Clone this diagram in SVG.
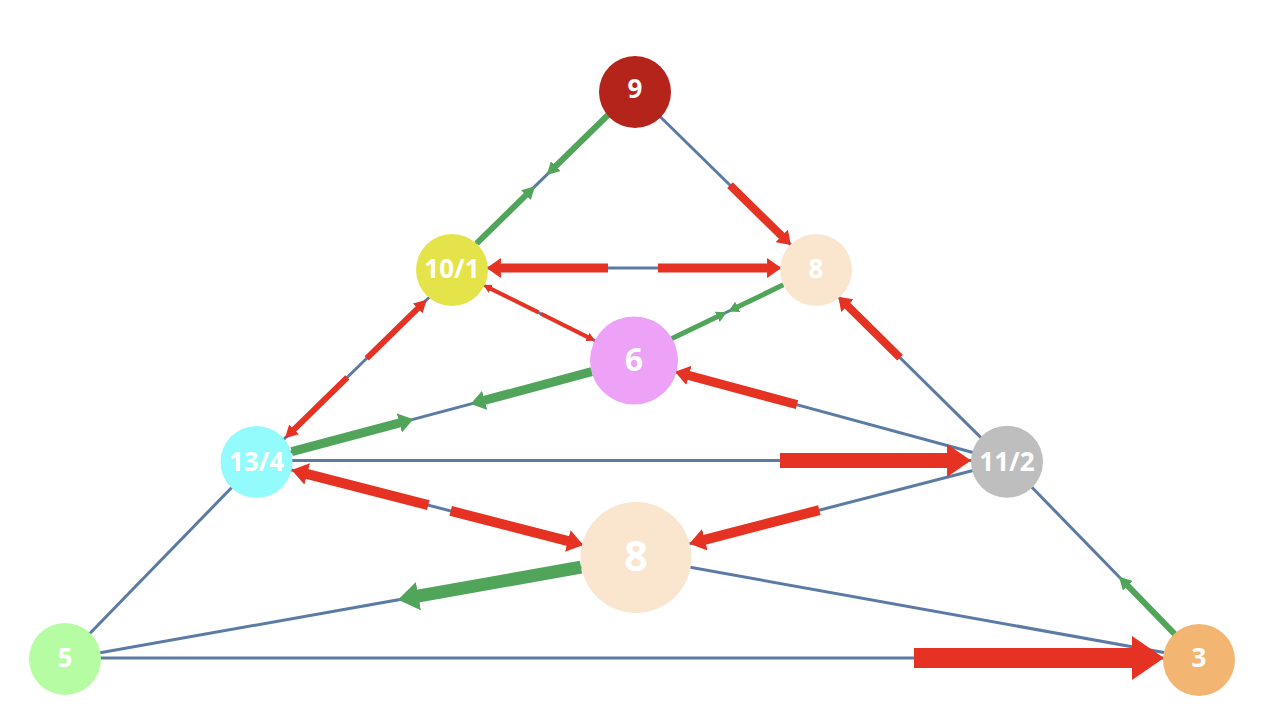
<svg xmlns="http://www.w3.org/2000/svg" width="1268" height="720" viewBox="0 0 1268 720">
<style>
.e{stroke:#5b7ba4;stroke-width:3;fill:none}
.r{stroke:#e63222;fill:none}
.g{stroke:#51a55b;fill:none}
.rb{marker-end:url(#hrb)}
.rt{marker-end:url(#hrt)}
.gb{marker-end:url(#hgb)}
.gt{marker-end:url(#hgt)}
.t{fill:#ffffff;font-family:"Open Sans","DejaVu Sans",sans-serif;font-weight:bold;text-anchor:middle}
</style>
<defs>
<marker id="hrb" viewBox="0 -1.1 1.6 2.2" refX="0.05" refY="0" markerWidth="1.6" markerHeight="2.2" markerUnits="strokeWidth" orient="auto"><path d="M0,-1.1 L1.6,0 L0,1.1 z" fill="#e63222"/></marker>
<marker id="hrt" viewBox="0 -1.15 2.1 2.3" refX="0.1" refY="0" markerWidth="2.1" markerHeight="2.3" markerUnits="strokeWidth" orient="auto"><path d="M0,-1.15 L2.1,0 L0,1.15 z" fill="#e63222"/></marker>
<marker id="hgb" viewBox="0 -1.1 1.6 2.2" refX="0.05" refY="0" markerWidth="1.6" markerHeight="2.2" markerUnits="strokeWidth" orient="auto"><path d="M0,-1.1 L1.6,0 L0,1.1 z" fill="#51a55b"/></marker>
<marker id="hgt" viewBox="0 -1.15 2.1 2.3" refX="0.1" refY="0" markerWidth="2.1" markerHeight="2.3" markerUnits="strokeWidth" orient="auto"><path d="M0,-1.15 L2.1,0 L0,1.15 z" fill="#51a55b"/></marker>
</defs>
<rect width="1268" height="720" fill="#ffffff"/>
<g id="connectors">
<line class="e" x1="635" y1="88.6" x2="452" y2="267.4"/>
<line class="e" x1="635" y1="92" x2="816" y2="269.5"/>
<line class="e" x1="452" y1="268" x2="816" y2="268"/>
<line class="e" x1="452" y1="269.4" x2="634" y2="360.1"/>
<line class="e" x1="816" y1="269" x2="634" y2="357"/>
<line class="e" x1="452" y1="275" x2="256.5" y2="466"/>
<line class="e" x1="634" y1="360.4" x2="256.5" y2="461.1"/>
<line class="e" x1="634" y1="360.5" x2="1007" y2="461.7"/>
<line class="e" x1="256.5" y1="460.5" x2="1007" y2="460.5"/>
<line class="e" x1="256.5" y1="461" x2="636" y2="558.6"/>
<line class="e" x1="1007" y1="461.7" x2="636" y2="557.5"/>
<line class="e" x1="1007" y1="463.4" x2="816" y2="274.7"/>
<line class="e" x1="1007" y1="461.7" x2="1200" y2="660"/>
<line class="e" x1="256.5" y1="462" x2="65" y2="659"/>
<line class="e" x1="636" y1="557.5" x2="65" y2="659"/>
<line class="e" x1="636" y1="557.5" x2="1200" y2="659"/>
<line class="e" x1="65" y1="658" x2="1200" y2="658"/>

<line class="g gt" stroke-width="6" x1="608" y1="115" x2="555.3" y2="166.5"/>
<line class="g gt" stroke-width="6" x1="476.7" y1="243.3" x2="526.4" y2="194.7"/>
<line class="r rb" stroke-width="8" x1="730" y1="185.2" x2="782" y2="236.2"/>
<line class="r rb" stroke-width="9" x1="608" y1="268" x2="500.5" y2="268"/>
<line class="r rb" stroke-width="9" x1="658" y1="268" x2="767.5" y2="268"/>
<line class="r rt" stroke-width="4" x1="541" y1="313.7" x2="587.8" y2="337.1"/>
<line class="r rt" stroke-width="4" x1="538.5" y1="312.4" x2="490.5" y2="288.6"/>
<line class="g gt" stroke-width="5" x1="783.3" y1="284.8" x2="737.3" y2="307.1"/>
<line class="g gt" stroke-width="5" x1="672" y1="338.6" x2="717.7" y2="316.6"/>
<line class="r rt" stroke-width="6" x1="366.7" y1="358.3" x2="418.1" y2="308.1"/>
<line class="r rt" stroke-width="6" x1="347.3" y1="377.3" x2="293.6" y2="429.8"/>
<line class="g gb" stroke-width="9" x1="291.7" y1="451.7" x2="399.8" y2="422.9"/>
<line class="g gb" stroke-width="9" x1="591.7" y1="371.7" x2="484.2" y2="400.4"/>
<line class="r rb" stroke-width="9" x1="797" y1="404.7" x2="688.5" y2="375.3"/>
<line class="r rb" stroke-width="15" x1="780" y1="460.5" x2="947.8" y2="460.5"/>
<line class="r rb" stroke-width="10" x1="428.3" y1="505.1" x2="306.7" y2="473.9"/>
<line class="r rb" stroke-width="10" x1="450.7" y1="510.9" x2="568.3" y2="541.1"/>
<line class="r rb" stroke-width="10" x1="819.3" y1="510.2" x2="704.3" y2="539.8"/>
<line class="r rb" stroke-width="8" x1="900" y1="357.7" x2="847.1" y2="305.4"/>
<line class="g gt" stroke-width="6" x1="1176" y1="635.3" x2="1127.4" y2="585.3"/>
<line class="g gb" stroke-width="13" x1="581" y1="567.1" x2="417.8" y2="596.2"/>
<line class="r rb" stroke-width="20" x1="914" y1="658" x2="1133" y2="658"/>
</g>
<g id="n9"><circle cx="635" cy="92" r="36" fill="#b5241a"/><text class="t" x="635" y="98" font-size="26">9</text></g>
<g id="n10_1"><circle cx="452" cy="270" r="36" fill="#e5e34a"/><text class="t" x="452" y="278" font-size="26">10/1</text></g>
<g id="n8a"><circle cx="816" cy="270" r="36" fill="#fae5cf"/><text class="t" x="816" y="278" font-size="26">8</text></g>
<g id="n6"><circle cx="634" cy="360.5" r="44" fill="#eda1f7"/><text class="t" x="634" y="370.5" font-size="32">6</text></g>
<g id="n13_4"><circle cx="256.5" cy="462" r="36" fill="#93fbfb"/><text class="t" x="256.5" y="470.5" font-size="26">13/4</text></g>
<g id="n11_2"><circle cx="1007" cy="461.7" r="36" fill="#bebebe"/><text class="t" x="1007" y="471" font-size="26">11/2</text></g>
<g id="n8b"><circle cx="636" cy="557.5" r="55.5" fill="#fae5cf"/><text class="t" x="636" y="571" font-size="42">8</text></g>
<g id="n5"><circle cx="65" cy="659" r="36" fill="#b5fca3"/><text class="t" x="65" y="667" font-size="26">5</text></g>
<g id="n3"><circle cx="1199" cy="660" r="36" fill="#f2b572"/><text class="t" x="1199" y="667" font-size="26">3</text></g>
</svg>
